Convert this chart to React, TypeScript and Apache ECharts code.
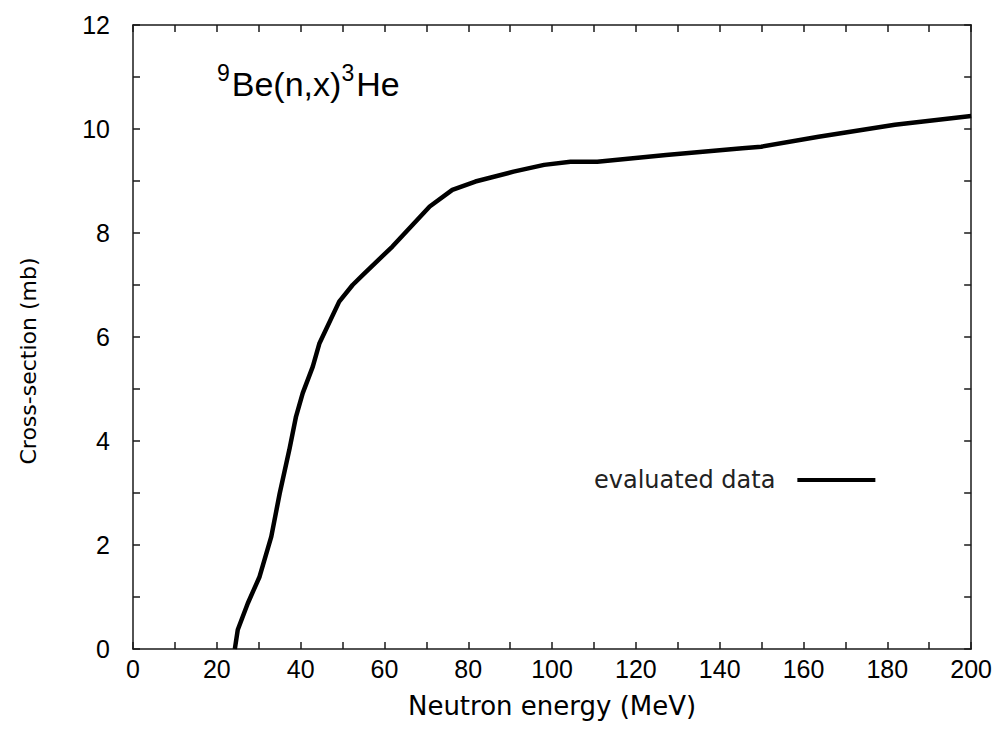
import React, { useEffect, useRef } from "react";
import * as echarts from "echarts";

const energyMeV = [24.3, 25.0, 27.4, 30.2, 33.0, 35.0, 37.3, 38.9, 40.5, 42.9, 44.5, 49.2, 52.4, 54.8, 61.9, 70.8, 76.2, 81.7, 90.8, 98.1, 104.4, 110.8, 127.2, 145.4, 149.9, 163.6, 181.8, 200];
const crossSectionMb = [0, 0.37, 0.88, 1.39, 2.16, 2.99, 3.83, 4.47, 4.92, 5.43, 5.88, 6.68, 7.0, 7.19, 7.74, 8.51, 8.83, 8.99, 9.18, 9.31, 9.37, 9.37, 9.5, 9.63, 9.66, 9.85, 10.08, 10.25];
const seriesName = "evaluated data";
const yAxisName = "Cross-section (mb)";
const xAxisName = "Neutron energy (MeV)";

const FONT = "'Liberation Sans', Arial, sans-serif";
const WIDE = "'DejaVu Sans', sans-serif";

export default function App() {
  const ref = useRef<HTMLDivElement>(null);
  useEffect(() => {
    if (!ref.current) return;
    const chart = echarts.init(ref.current, null, { renderer: "svg" });
    const data = energyMeV.map((x, i) => [x, crossSectionMb[i]]);
    const axisLine = { show: true, onZero: false, lineStyle: { color: "#1a1a1a", width: 1.5 } };
    const tick = { show: true, inside: true, length: 7, lineStyle: { color: "#1a1a1a", width: 1.5 } };
    chart.setOption({
      animation: false,
      backgroundColor: "#fff",
      grid: { left: 125, right: 21, top: 17, bottom: 92, containLabel: false },
      title: {
        text: "{sup|9}{main|Be(n,x)}{sup|3}{main|He}",
        left: 204,
        top: 48,
        textStyle: {
          fontWeight: "normal",
          rich: {
            main: { fontFamily: FONT, fontSize: 34, fontWeight: "normal", color: "#000", lineHeight: 40, verticalAlign: "bottom" },
            sup: { fontFamily: FONT, fontSize: 23, fontWeight: "normal", color: "#000", lineHeight: 40, verticalAlign: "top", padding: [0, 2, 0, 0] },
          },
        },
      },
      legend: {
        show: true,
        left: 581,
        top: 455,
        align: "right",
        icon: "rect",
        itemWidth: 78,
        itemHeight: 4,
        data: [{ name: seriesName }],
        textStyle: { fontFamily: WIDE, fontSize: 24, color: "#222", padding: [0, 17, 0, 0] },
        selectedMode: false,
      },
      graphic: [
        {
          type: "text",
          x: 20,
          y: 353,
          rotation: Math.PI / 2,
          style: {
            text: yAxisName,
            fontFamily: WIDE,
            fontSize: 22,
            fill: "#000",
            align: "center",
            verticalAlign: "middle",
          },
        },
      ],
      xAxis: [
        {
          type: "value",
          min: 0,
          max: 200,
          interval: 10,
          name: xAxisName,
          nameLocation: "middle",
          nameGap: 44,
          nameTextStyle: { fontFamily: WIDE, fontSize: 26, color: "#000" },
          axisLine,
          axisTick: tick,
          splitLine: { show: false },
          axisLabel: {
            fontFamily: FONT,
            fontSize: 25,
            color: "#000",
            margin: 7,
            formatter: (v: number) => (v % 20 === 0 ? String(v) : ""),
          },
        },
        {
          type: "value",
          position: "top",
          min: 0,
          max: 200,
          interval: 10,
          axisLine,
          axisTick: tick,
          splitLine: { show: false },
          axisLabel: { show: false },
        },
      ],
      yAxis: [
        {
          type: "value",
          min: 0,
          max: 12,
          interval: 1,
          axisLine,
          axisTick: tick,
          splitLine: { show: false },
          axisLabel: {
            fontFamily: FONT,
            fontSize: 25,
            color: "#000",
            margin: 23,
            formatter: (v: number) => (v % 2 === 0 ? String(v) : ""),
          },
        },
        {
          type: "value",
          position: "right",
          min: 0,
          max: 12,
          interval: 1,
          axisLine,
          axisTick: tick,
          splitLine: { show: false },
          axisLabel: { show: false },
        },
      ],
      series: [
        {
          name: seriesName,
          type: "line",
          xAxisIndex: 0,
          yAxisIndex: 0,
          data,
          showSymbol: false,
          symbol: "none",
          smooth: false,
          lineStyle: { color: "#000", width: 4.5 },
          itemStyle: { color: "#000" },
        },
      ],
    });
    return () => chart.dispose();
  }, []);
  return <div ref={ref} style={{ width: 987, height: 733 }} />;
}
